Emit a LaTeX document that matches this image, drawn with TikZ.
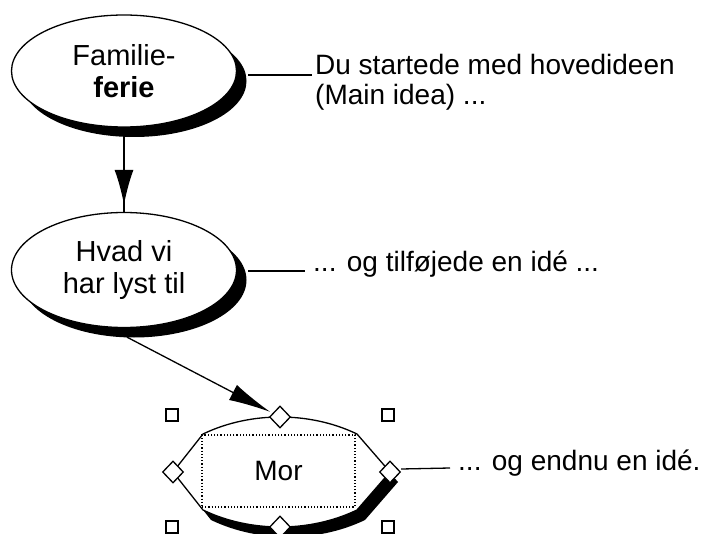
\documentclass[tikz,border=0pt]{standalone}
\usepackage{fontspec}
\setmainfont{Liberation Sans}
\usetikzlibrary{shapes.geometric,shadows,arrows.meta}
\newcommand\lemonpath{(173,472) -- (203,434) .. controls (228,422) and (255,417) .. (280,417) .. controls (305,417) and (332,422) .. (357,434) -- (390,472) -- (357,510) .. controls (332,522) and (305,527) .. (280,527) .. controls (255,527) and (228,522) .. (203,510) -- cycle}
\begin{document}
\begin{tikzpicture}[x=1pt,y=-1pt,
  bub/.style={ellipse, draw, line width=1.3pt, fill=white, minimum width=225pt, minimum height=112pt, inner sep=0pt, align=center, font=\fontsize{29}{32}\selectfont, general shadow={fill=black, shadow xshift=10pt, shadow yshift=-10pt}},
  lbl/.style={font=\fontsize{28}{30}\selectfont, align=left, inner sep=0pt, anchor=base west},
  conn/.style={line width=1.3pt},
  handle/.style={draw, fill=white, line width=1.3pt, minimum size=12pt, inner sep=0pt},
  dhandle/.style={diamond, draw, fill=white, line width=1.3pt, minimum width=21pt, minimum height=22pt, inner sep=0pt}]
\useasboundingbox (0,0) rectangle (703,534);
\fill[white] (0,0) rectangle (703,534);
% bubbles
\node[bub] (e1) at (124,71) {Familie-\\\textbf{ferie}};
\node[bub, minimum height=115pt] (e2) at (124,270) {Hvad vi\\har lyst til};
% selected bubble
\fill[black, xshift=8pt, yshift=-10pt] \lemonpath;
\draw[conn, fill=white] \lemonpath;
\node[draw, dotted, line width=1.2pt, minimum width=153pt, minimum height=72pt, inner sep=0pt, font=\fontsize{28}{30}\selectfont] (mor) at (278.5,471) {Mor};
\node[dhandle] (dT) at (280,417) {};
\node[dhandle] (dL) at (173,472) {};
\node[dhandle] (dR) at (390,472) {};
\node[dhandle] (dB) at (280,527) {};
\node[handle] (s1) at (172,415) {};
\node[handle] (s2) at (388,415) {};
\node[handle] (s3) at (172,527) {};
\node[handle] (s4) at (388,527) {};
% labels
\node[lbl] (t1) at (315,105) {Du startede med hovedideen\\(Main idea) ...};
\node[lbl] (t2) at (313,272) {... og tilføjede en idé ...};
\node[lbl] (t3) at (458,470) {... og endnu en idé.};
% connectors
\draw[conn] ([xshift=11pt,yshift=-4pt]e1.east) -- ([xshift=-3pt,yshift=30pt]t1.base west);
\draw[conn] ([xshift=11pt,yshift=-1pt]e2.east) -- ([xshift=-8pt,yshift=1pt]t2.base west);
\draw[conn] ([yshift=3pt]dR.east) -- ([xshift=-8pt,yshift=2pt]t3.base west);
\draw[conn] (e1.south) -- (e2.north);
\draw[conn, -{Latex[length=35pt,width=19pt]}, shorten >=7pt] (e1.south) -- (e2.north);
\draw[conn, -{Latex[length=42pt,width=17pt]}, shorten >=11pt] ([xshift=3pt,yshift=-9pt]e2.south) -- (dT.center);
\end{tikzpicture}
\end{document}
